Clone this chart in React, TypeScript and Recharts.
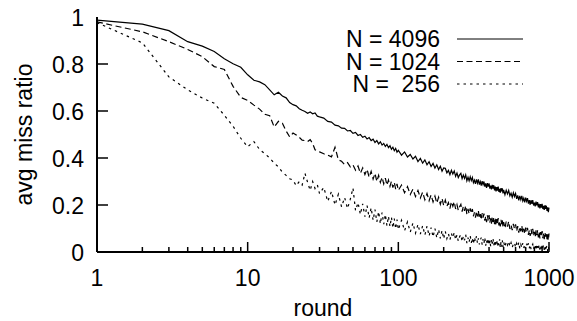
import { LineChart, Line, XAxis, YAxis, Legend, Label } from "recharts"

// rounds sampled from the plot (log x axis, 1..1000)
const rounds = [
  1, 2, 3, 4, 5, 6, 7, 8, 9, 10, 11, 12, 13, 14, 15, 16, 17, 18, 19, 20, 21, 22, 23, 24, 25, 26, 27, 28, 29, 30,
  32, 34, 36, 38, 40, 42, 44, 46, 48, 50, 52, 54, 56, 58, 60, 62, 64, 66, 68, 70, 72, 74, 76, 78, 80, 82, 84, 86,
  88, 90, 92, 94, 96, 98, 100,
  105, 110, 115, 120, 125, 130, 135, 140, 145, 150, 155, 160, 165, 170, 175, 180, 185, 190, 195, 200,
  205, 210, 215, 220, 225, 230, 235, 240, 245, 250, 255, 260, 265, 270, 275, 280, 285, 290, 295, 300,
  305, 310, 315, 320, 325, 330, 335, 340, 345, 350, 355, 360, 365, 370, 375, 380, 385, 390, 395, 400,
  405, 410, 415, 420, 425, 430, 435, 440, 445, 450, 455, 460, 465, 470, 475, 480, 485, 490, 495, 500,
  510, 520, 530, 540, 550, 560, 570, 580, 590, 600, 610, 620, 630, 640, 650, 660, 670, 680, 690, 700,
  710, 720, 730, 740, 750, 760, 770, 780, 790, 800, 810, 820, 830, 840, 850, 860, 870, 880, 890, 900,
  910, 920, 930, 940, 950, 960, 970, 980, 990, 1000,
]

const n4096 = [
  0.987, 0.97, 0.942, 0.895, 0.876, 0.853, 0.822, 0.801, 0.786, 0.754, 0.731, 0.724, 0.712, 0.69, 0.669, 0.68,
  0.664, 0.656, 0.636, 0.627, 0.622, 0.61, 0.603, 0.598, 0.59, 0.596, 0.588, 0.592, 0.578, 0.575,
  0.57, 0.556, 0.553, 0.54, 0.537, 0.527, 0.526, 0.515, 0.517, 0.505, 0.509, 0.496, 0.5, 0.488, 0.493, 0.481,
  0.487, 0.474, 0.48, 0.466, 0.474, 0.46, 0.469, 0.455, 0.462, 0.449, 0.458, 0.444, 0.452, 0.437, 0.446, 0.431,
  0.441, 0.425, 0.433,
  0.412, 0.426, 0.404, 0.415, 0.396, 0.407, 0.385, 0.398, 0.378, 0.392, 0.371, 0.384, 0.364, 0.377, 0.357, 0.371,
  0.351, 0.365, 0.344, 0.358,
  0.356, 0.337, 0.347, 0.329, 0.348, 0.332, 0.345, 0.322, 0.336, 0.317,
  0.328, 0.335, 0.312, 0.327, 0.313, 0.328, 0.303, 0.318, 0.303, 0.32,
  0.304, 0.317, 0.295, 0.306, 0.29, 0.309, 0.293, 0.309, 0.287, 0.299,
  0.282, 0.302, 0.287, 0.3, 0.278, 0.292, 0.273, 0.293, 0.278, 0.292,
  0.27, 0.282, 0.266, 0.286, 0.27, 0.284, 0.262, 0.278, 0.258, 0.276,
  0.261, 0.278, 0.256, 0.269, 0.252, 0.272, 0.258, 0.271, 0.249, 0.264,
  0.244, 0.263, 0.247, 0.262, 0.239, 0.25, 0.233, 0.252, 0.236, 0.249,
  0.226, 0.241, 0.22, 0.239, 0.223, 0.239, 0.217, 0.229, 0.211, 0.231,
  0.216, 0.229, 0.206, 0.221, 0.201, 0.221, 0.205, 0.221, 0.198, 0.21,
  0.194, 0.214, 0.198, 0.212, 0.19, 0.205, 0.185, 0.204, 0.189, 0.205,
  0.183, 0.196, 0.179, 0.199, 0.184, 0.197, 0.175, 0.19, 0.17, 0.189,
]

const n1024 = [
  0.979, 0.937, 0.895, 0.862, 0.831, 0.789, 0.777, 0.705, 0.658, 0.645, 0.625, 0.608, 0.586, 0.58, 0.532, 0.556,
  0.548, 0.515, 0.49, 0.506, 0.498, 0.488, 0.476, 0.474, 0.47, 0.478, 0.462, 0.435, 0.43, 0.426,
  0.418, 0.412, 0.405, 0.446, 0.392, 0.386, 0.372, 0.38, 0.362, 0.371, 0.348, 0.366, 0.335, 0.358, 0.33, 0.352,
  0.318, 0.343, 0.31, 0.335, 0.3, 0.326, 0.296, 0.318, 0.29, 0.314, 0.284, 0.306, 0.279, 0.301, 0.274, 0.296,
  0.268, 0.29, 0.262,
  0.285, 0.252, 0.278, 0.245, 0.268, 0.236, 0.262, 0.23, 0.255, 0.222, 0.249, 0.218, 0.243, 0.213, 0.238, 0.208,
  0.233, 0.203, 0.228, 0.198,
  0.221, 0.194, 0.21, 0.185, 0.214, 0.195, 0.214, 0.183, 0.202, 0.177,
  0.193, 0.203, 0.172, 0.194, 0.175, 0.197, 0.161, 0.183, 0.163, 0.186,
  0.164, 0.183, 0.152, 0.169, 0.146, 0.174, 0.151, 0.175, 0.143, 0.161,
  0.137, 0.165, 0.146, 0.163, 0.133, 0.153, 0.127, 0.156, 0.134, 0.157,
  0.125, 0.143, 0.121, 0.149, 0.128, 0.148, 0.118, 0.141, 0.113, 0.14,
  0.12, 0.144, 0.113, 0.132, 0.109, 0.137, 0.118, 0.136, 0.106, 0.127,
  0.101, 0.129, 0.108, 0.13, 0.098, 0.115, 0.093, 0.12, 0.099, 0.118,
  0.088, 0.11, 0.082, 0.108, 0.088, 0.112, 0.081, 0.099, 0.076, 0.104,
  0.085, 0.103, 0.073, 0.094, 0.068, 0.097, 0.076, 0.099, 0.068, 0.086,
  0.064, 0.092, 0.072, 0.092, 0.062, 0.085, 0.058, 0.085, 0.065, 0.089,
  0.059, 0.078, 0.055, 0.084, 0.065, 0.083, 0.054, 0.075, 0.05, 0.079,
]

const n256 = [
  0.976, 0.89, 0.745, 0.69, 0.655, 0.633, 0.582, 0.535, 0.484, 0.448, 0.47, 0.436, 0.418, 0.4, 0.378, 0.362,
  0.34, 0.326, 0.312, 0.306, 0.282, 0.3, 0.285, 0.335, 0.296, 0.262, 0.3, 0.27, 0.286, 0.248,
  0.275, 0.215, 0.258, 0.2, 0.246, 0.192, 0.232, 0.185, 0.225, 0.272, 0.176, 0.21, 0.16, 0.205, 0.15, 0.198,
  0.145, 0.188, 0.135, 0.18, 0.128, 0.172, 0.12, 0.168, 0.118, 0.16, 0.112, 0.152, 0.108, 0.148, 0.102, 0.142,
  0.098, 0.138, 0.095,
  0.135, 0.09, 0.128, 0.085, 0.124, 0.08, 0.118, 0.076, 0.112, 0.072, 0.11, 0.068, 0.104, 0.064, 0.1, 0.06,
  0.096, 0.058, 0.092, 0.056,
  0.088, 0.057, 0.078, 0.051, 0.079, 0.061, 0.083, 0.052, 0.073, 0.046,
  0.065, 0.074, 0.044, 0.067, 0.05, 0.074, 0.038, 0.061, 0.041, 0.069,
  0.039, 0.06, 0.034, 0.063, 0.045, 0.068, 0.037, 0.058, 0.032, 0.051,
  0.061, 0.031, 0.055, 0.037, 0.062, 0.027, 0.05, 0.031, 0.058, 0.029,
  0.05, 0.024, 0.053, 0.036, 0.058, 0.028, 0.049, 0.023, 0.043, 0.052,
  0.023, 0.046, 0.029, 0.054, 0.018, 0.042, 0.023, 0.05, 0.021, 0.043,
  0.021, 0.043, 0.029, 0.046, 0.023, 0.039, 0.019, 0.034, 0.04, 0.019,
  0.037, 0.023, 0.041, 0.015, 0.032, 0.018, 0.038, 0.017, 0.032, 0.013,
  0.035, 0.021, 0.038, 0.016, 0.031, 0.012, 0.026, 0.033, 0.012, 0.029,
  0.016, 0.034, 0.008, 0.025, 0.011, 0.031, 0.01, 0.026, 0.006, 0.028,
  0.015, 0.031, 0.009, 0.025, 0.005, 0.02, 0.027, 0.005, 0.023, 0.01,
]

const xTicks = [
  1, 2, 3, 4, 5, 6, 7, 8, 9, 10, 20, 30, 40, 50, 60, 70, 80, 90, 100, 200, 300, 400, 500, 600, 700, 800, 900, 1000,
]
const xMajor = [1, 10, 100, 1000]
const yTicks = [0, 0.2, 0.4, 0.6, 0.8, 1]

const seriesNames = ["N = 4096", "N = 1024", "N =  256"]
const seriesKeys = ["n4096", "n1024", "n256"]
const dashes = ["", "6 3.5", "2.5 4"]

const data = rounds.map((r, i) => ({ round: r, n4096: n4096[i], n1024: n1024[i], n256: n256[i] }))

const FONT = '"Liberation Sans", Arial, Helvetica, sans-serif'
const FS = 23

const BottomTick = (props: any) => {
  const { x, y, payload } = props
  const major = xMajor.includes(payload.value)
  return (
    <g>
      <line x1={x} x2={x} y1={y} y2={y - (major ? 10 : 5)} stroke="#000" strokeWidth={1.5} />
      {major && (
        <text x={x} y={y + 34} textAnchor="middle" fontSize={FS} fill="#000" fontFamily={FONT}>
          {payload.value}
        </text>
      )}
    </g>
  )
}

const TopTick = (props: any) => {
  const { x, y, payload } = props
  const major = xMajor.includes(payload.value)
  return <line x1={x} x2={x} y1={y} y2={y + (major ? 10 : 5)} stroke="#000" strokeWidth={1.5} />
}

const LeftTick = (props: any) => {
  const { x, y, payload } = props
  const v = payload.value
  const edge = v === 0 || v === 1
  return (
    <g>
      {!edge && <line x1={x} x2={x + 11} y1={y} y2={y} stroke="#000" strokeWidth={1.5} />}
      <text x={x - 13} y={y + 8.5} textAnchor="end" fontSize={FS} fill="#000" fontFamily={FONT}>
        {String(v)}
      </text>
    </g>
  )
}

const RightTick = (props: any) => {
  const { x, y, payload } = props
  const v = payload.value
  if (v === 0 || v === 1) return <g />
  return <line x1={x} x2={x - 11} y1={y} y2={y} stroke="#000" strokeWidth={1.5} />
}

// legend drawn as svg text so rows keep the tight gnuplot spacing
const renderLegend = () => (
  <svg width={200} height={84} style={{ display: "block" }}>
    {seriesNames.map((name, i) => {
      const cy = 16 + i * 22.5
      return (
        <g key={name}>
          <text x={110} y={cy + 8} textAnchor="end" fontSize={FS} fill="#000" fontFamily={FONT}
            style={{ whiteSpace: "pre" }}>
            {name}
          </text>
          <line x1={127} x2={193} y1={cy} y2={cy} stroke="#000" strokeWidth={1}
            strokeDasharray={dashes[i] || undefined} />
        </g>
      )
    })}
  </svg>
)

export default function App() {
  return (
    <div style={{ position: "absolute", left: 0, top: 0, background: "#fff", fontFamily: FONT }}>
      <LineChart width={577} height={321} data={data} margin={{ top: 17, right: 28, left: 0, bottom: 0 }}>
        <XAxis
          dataKey="round"
          type="number"
          scale="log"
          domain={[1, 1000]}
          ticks={xTicks}
          interval={0}
          height={69}
          tickSize={0}
          tickMargin={0}
          tickLine={false}
          axisLine={{ stroke: "#000", strokeWidth: 2 }}
          tick={<BottomTick />}
        >
          <Label value="round" position="insideBottom" offset={5} fontSize={FS} fill="#000" fontFamily={FONT} />
        </XAxis>
        <XAxis
          xAxisId="top"
          dataKey="round"
          orientation="top"
          type="number"
          scale="log"
          domain={[1, 1000]}
          ticks={xTicks}
          interval={0}
          height={0}
          tickSize={0}
          tickMargin={0}
          tickLine={false}
          axisLine={{ stroke: "#000", strokeWidth: 2 }}
          tick={<TopTick />}
        />
        <YAxis
          type="number"
          domain={[0, 1]}
          ticks={yTicks}
          interval={0}
          width={97}
          tickSize={0}
          tickMargin={0}
          tickLine={false}
          axisLine={{ stroke: "#000", strokeWidth: 2 }}
          tick={<LeftTick />}
        >
          <Label
            content={(p: any) => {
              const vb = p.viewBox
              const cy = vb.y + vb.height / 2
              return (
                <text x={32} y={cy} transform={`rotate(-90 32 ${cy})`} textAnchor="middle" fontSize={FS}
                  fill="#000" fontFamily={FONT}>
                  avg miss ratio
                </text>
              )
            }}
          />
        </YAxis>
        <YAxis
          yAxisId="right"
          orientation="right"
          type="number"
          domain={[0, 1]}
          ticks={yTicks}
          interval={0}
          width={0}
          tickSize={0}
          tickMargin={0}
          tickLine={false}
          axisLine={{ stroke: "#000", strokeWidth: 2 }}
          tick={<RightTick />}
        />
        <Legend
          verticalAlign="middle"
          align="center"
          content={renderLegend}
          wrapperStyle={{ top: 23, left: 330, width: 200 }}
        />
        {seriesKeys.map((k, i) => (
          <Line
            key={k}
            dataKey={k}
            name={seriesNames[i]}
            type="linear"
            stroke="#000"
            strokeWidth={1.2}
            strokeDasharray={dashes[i] || undefined}
            dot={false}
            activeDot={false}
            isAnimationActive={false}
          />
        ))}
      </LineChart>
    </div>
  )
}
